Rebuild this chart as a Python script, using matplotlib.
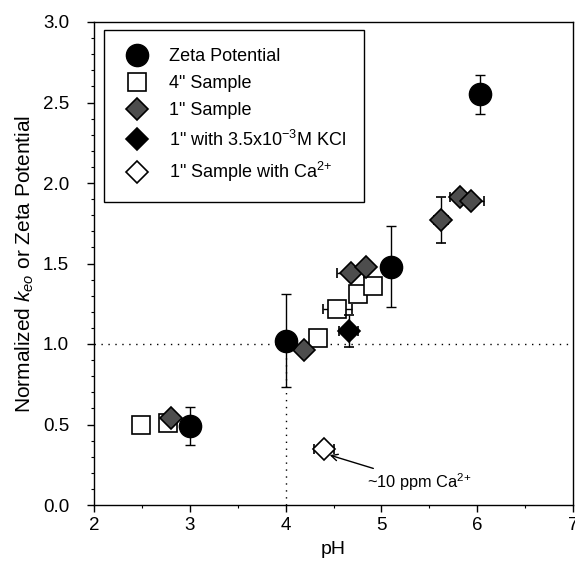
import numpy as np
import matplotlib.pyplot as plt
from matplotlib.ticker import MultipleLocator

plt.rcParams['font.family'] = ['Liberation Sans', 'DejaVu Sans']
plt.rcParams['mathtext.fontset'] = 'custom'
plt.rcParams['mathtext.rm'] = 'Liberation Sans'
plt.rcParams['mathtext.it'] = 'Liberation Sans:italic'

# zeta potential
zeta_ph = [3.0, 4.0, 5.1, 6.03]
zeta_val = [0.49, 1.02, 1.48, 2.55]
zeta_err = [0.12, 0.29, 0.25, 0.12]

# 4" sample
s4_ph = [2.49, 2.77, 4.34, 4.54, 4.76, 4.91]
s4_val = [0.50, 0.51, 1.04, 1.22, 1.31, 1.36]
s4_xerr = [0.03, 0.05, 0.05, 0.15, 0.07, 0.07]
s4_yerr = [0.03, 0.02, 0.02, 0.03, 0.05, 0.03]

# 1" sample
s1_ph = [2.80, 4.19, 4.68, 4.84, 5.62, 5.82, 5.94]
s1_val = [0.54, 0.96, 1.44, 1.48, 1.77, 1.91, 1.89]
s1_xerr = [0.03, 0.05, 0.14, 0.06, 0.07, 0.10, 0.13]
s1_yerr = [0.02, 0.02, 0.03, 0.03, 0.14, 0.03, 0.03]

# 1" with KCl
kcl_ph = [4.66]
kcl_val = [1.08]
kcl_xerr = [0.10]
kcl_yerr = [0.10]

# 1" with calcium
ca_ph = [4.40]
ca_val = [0.35]
ca_xerr = [0.10]
ca_yerr = [0.02]

fig = plt.figure(figsize=(5.75, 5.78), dpi=100)
ax = fig.add_axes([94/575, 73/578, 479/575, 483/578])

ax.plot([2, 7], [1.0, 1.0], color='black', ls=(0, (1, 4)), lw=1.0, zorder=1)
ax.plot([4, 4], [0, 1.0], color='black', ls=(0, (1, 4)), lw=1.0, zorder=1)

eb = dict(ecolor='black', elinewidth=1.0, capsize=3.5, capthick=1.0, ls='none')

ax.errorbar(s4_ph, s4_val, xerr=s4_xerr, yerr=s4_yerr, marker='s', ms=13.5,
            mfc='white', mec='black', mew=1.2, label='4" Sample', zorder=3, **eb)
ax.errorbar(s1_ph, s1_val, xerr=s1_xerr, yerr=s1_yerr, marker='D', ms=11.5,
            mfc='#4d4d4d', mec='black', mew=1.2, label='1" Sample', zorder=4, **eb)
ax.errorbar(kcl_ph, kcl_val, xerr=kcl_xerr, yerr=kcl_yerr, marker='D', ms=11.5,
            mfc='black', mec='black', mew=1.2,
            label='1" with 3.5x10$^{-3}$M KCl', zorder=4, **eb)
ax.errorbar(ca_ph, ca_val, xerr=ca_xerr, yerr=ca_yerr, marker='D', ms=11.5,
            mfc='white', mec='black', mew=1.2,
            label='1" Sample with Ca$^{2{+}}$', zorder=4, **eb)
ax.errorbar(zeta_ph, zeta_val, yerr=zeta_err, marker='o', ms=16,
            mfc='black', mec='black', label='Zeta Potential', zorder=5, **eb)

ax.annotate('~10 ppm Ca$^{2{+}}$', xy=(4.46, 0.31), xytext=(4.85, 0.14),
            fontsize=11.8, va='center', ha='left',
            arrowprops=dict(arrowstyle='->', color='black', lw=1.0,
                            shrinkA=1, shrinkB=0))

ax.set_xlim(2, 7)
ax.set_ylim(0, 3.0)
ax.xaxis.set_major_locator(MultipleLocator(1))
ax.xaxis.set_minor_locator(MultipleLocator(0.5))
ax.yaxis.set_major_locator(MultipleLocator(0.5))
ax.yaxis.set_minor_locator(MultipleLocator(0.1))
ax.yaxis.set_major_formatter(plt.FormatStrFormatter('%.1f'))
ax.tick_params(which='major', direction='out', length=5, width=1, labelsize=13.5)
ax.tick_params(axis='y', which='major', pad=13)
ax.tick_params(axis='x', which='major', pad=4)
ax.tick_params(which='minor', direction='out', length=2.5, width=0.8)
for s in ax.spines.values():
    s.set_linewidth(1.0)

ax.set_xlabel('pH', fontsize=14, labelpad=5)
ax.set_ylabel('Normalized $k_{eo}$ or Zeta Potential', fontsize=15, labelpad=5)

handles, labels = ax.get_legend_handles_labels()
order = [4, 0, 1, 2, 3]
leg = ax.legend([handles[i][0] for i in order], [labels[i] for i in order],
                loc='upper left', bbox_to_anchor=(0.021, 0.983), borderaxespad=0,
                fontsize=13, labelspacing=0.56, handletextpad=0.9, borderpad=1.0,
                handlelength=1.7, fancybox=False, framealpha=1,
                edgecolor='black', markerscale=1.0)
leg.get_frame().set_linewidth(1.0)

fig.savefig('out.png', dpi=100)
